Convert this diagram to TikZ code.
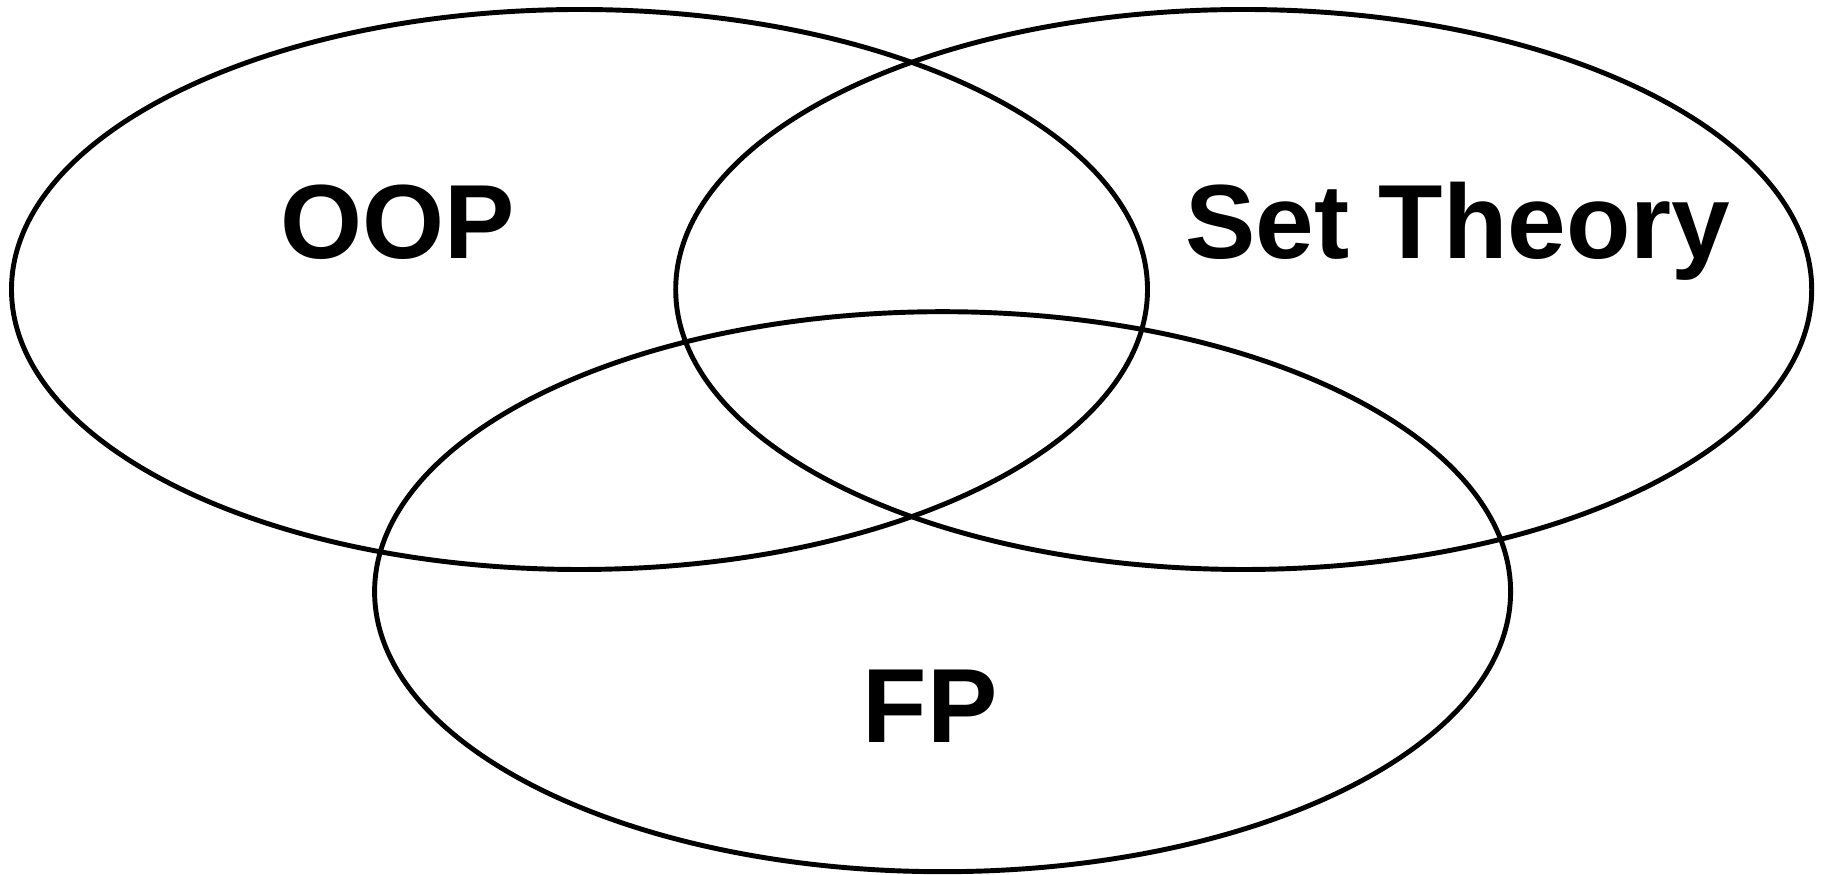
\documentclass[tikz,border=0pt]{standalone}
\usepackage{fontspec}
\setmainfont{Liberation Sans}
\usetikzlibrary{shapes.geometric}

\begin{document}
\begin{tikzpicture}[
  set/.style={draw, ellipse, line width=1.4pt, minimum width=11.36cm, minimum height=5.6cm, inner sep=0pt},
  lbl/.style={anchor=base, font=\fontsize{30}{36}\selectfont\bfseries}]
  \useasboundingbox (0,0) rectangle (18.27,8.75);
  % sets
  \node[set] (oopset) at (5.795,5.855) {};
  \node[set] (stset) at (12.437,5.855) {};
  \node[set] (fpset) at (9.426,2.833) {};

  % labels
  \node[lbl] (oop) at (3.98,6.164) {OOP};
  \node[lbl] (st) at (14.58,6.164) {Set Theory};
  \node[lbl] (fp) at (9.30,1.32) {FP};
\end{tikzpicture}
\end{document}
